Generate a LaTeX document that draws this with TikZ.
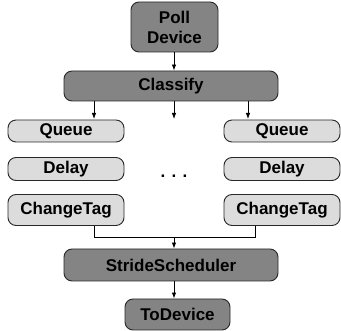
\documentclass[tikz,border=0pt]{standalone}
\usepackage{fontspec}
\setmainfont{Liberation Sans}
\usetikzlibrary{arrows.meta}
\definecolor{darkbox}{RGB}{132,132,132}
\definecolor{lightbox}{RGB}{220,220,220}
\definecolor{edgecol}{RGB}{40,40,40}
\tikzset{
  box/.style={draw=edgecol, line width=0.9pt, rounded corners=8pt, inner sep=0pt, align=center,
    font=\fontsize{17}{20}\selectfont\bfseries},
  darkb/.style={box, fill=darkbox},
  lightb/.style={box, fill=lightbox},
  conn/.style={line width=0.8pt, draw=black},
  arr/.style={conn, -{Latex[length=6pt,width=4.5pt]}},
}
\begin{document}
\begin{tikzpicture}[x=1pt,y=-1pt]
\useasboundingbox (0,0) rectangle (341,331);
\node[darkb, minimum width=87pt, minimum height=50pt] (poll) at (174.5,27) {Poll\\Device};
\node[darkb, minimum width=214pt, minimum height=30pt] (cls) at (171,86) {Classify};
\node[lightb, minimum width=116pt, minimum height=22pt] (q1) at (66,131) {Queue};
\node[lightb, minimum width=116pt, minimum height=23pt] (d1) at (66,169) {Delay};
\node[lightb, minimum width=116pt, minimum height=31pt] (c1) at (66,210) {ChangeTag};
\node[lightb, minimum width=116pt, minimum height=22pt] (q2) at (282,131) {Queue};
\node[lightb, minimum width=116pt, minimum height=23pt] (d2) at (282,169) {Delay};
\node[lightb, minimum width=116pt, minimum height=31pt] (c2) at (282,210) {ChangeTag};
\node[font=\fontsize{17}{20}\selectfont\bfseries] (dots) at (174,176) {. . .};
\node[darkb, minimum width=214pt, minimum height=32pt] (ss) at (171,265) {StrideScheduler};
\node[darkb, minimum width=105pt, minimum height=31pt] (td) at (177.5,314.5) {ToDevice};
\coordinate (j) at (174,237);
\coordinate (a1) at (94,101);
\coordinate (a2) at (174,101);
\coordinate (a3) at (248,101);
\draw[arr] (poll.south -| 174,0) -- (cls.north -| 174,0);
\draw[arr] (a1) -- (94,119);
\draw[arr] (a2) -- (174,119);
\draw[arr] (a3) -- (248,119);
\draw[conn] (c1.south -| 94,0) |- (j);
\draw[conn] (c2.south -| 255,0) |- (j);
\draw[arr] (j) -- (ss.north -| 174,0);
\draw[arr] (ss.south -| 174,0) -- (td.north -| 174,0);
\end{tikzpicture}
\end{document}
